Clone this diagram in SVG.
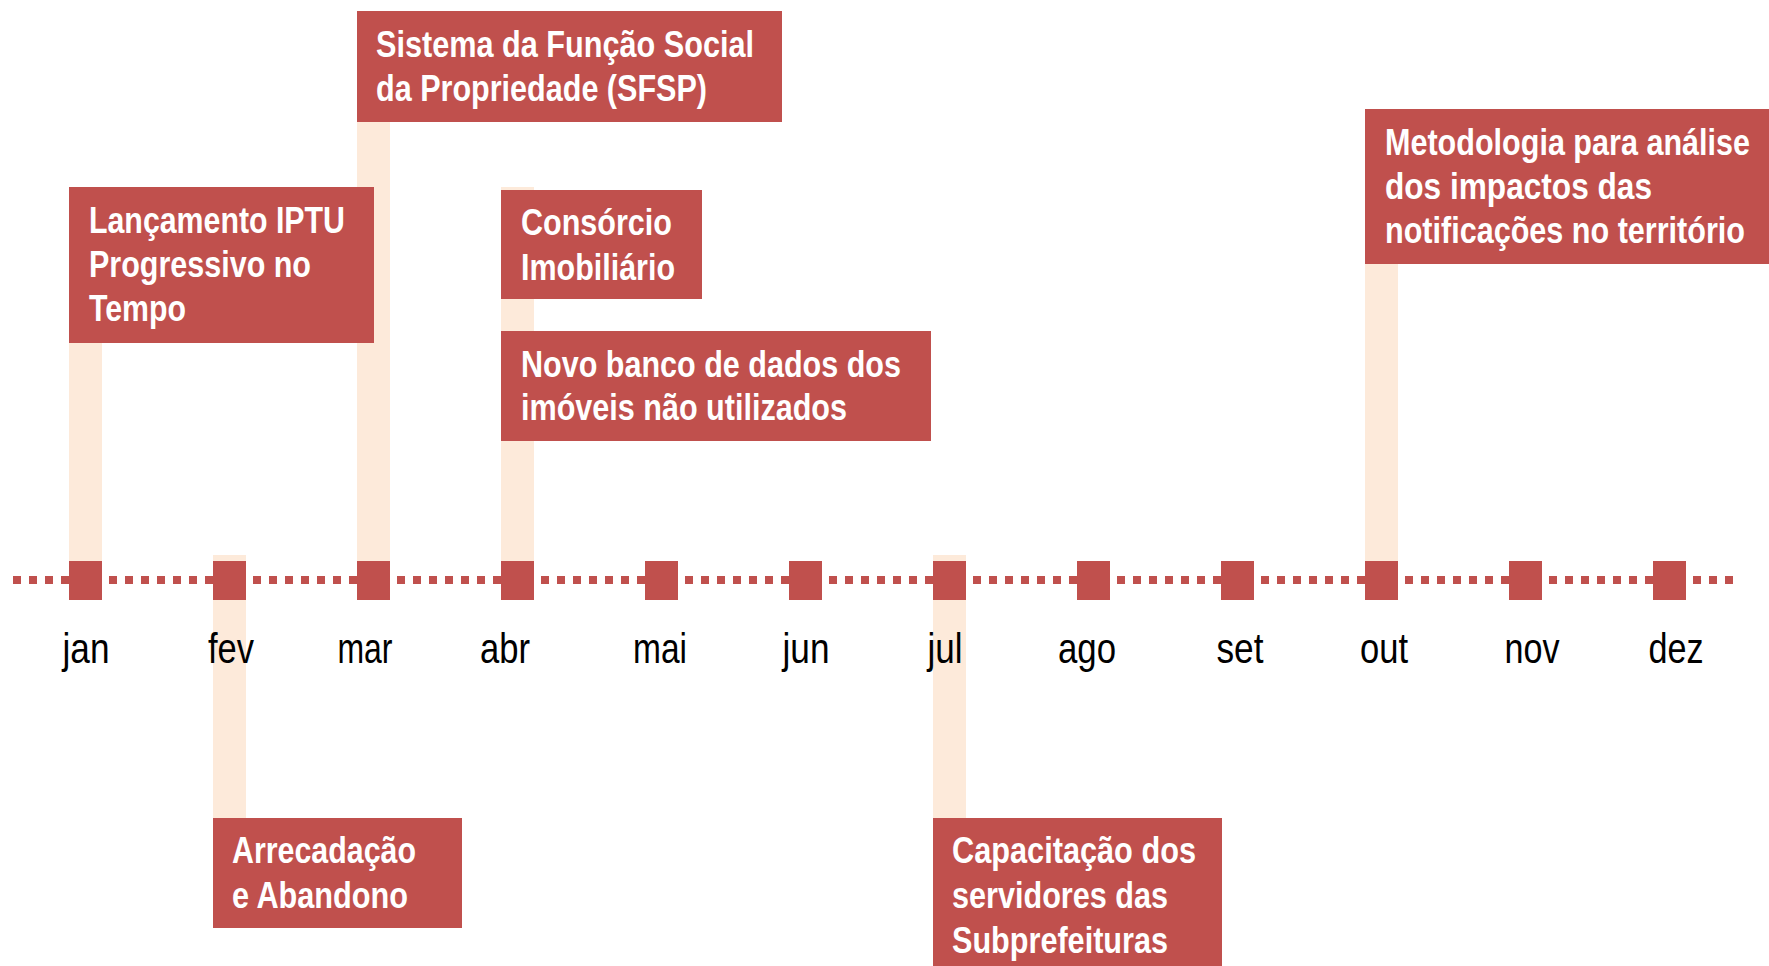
<svg xmlns="http://www.w3.org/2000/svg" width="1769" height="966" viewBox="0 0 1769 966">
<style>
.bg{fill:#FFFFFF}
.strip{fill:#FDEADA}
.box{fill:#C0504D}
.sq{fill:#C0504D}
.bt{font-family:"Liberation Sans","Arimo",Arial,sans-serif;font-weight:bold;font-size:37px;fill:#FFFFFF}
.mt{font-family:"Liberation Sans","Arimo",Arial,sans-serif;font-size:42px;fill:#000000;text-anchor:middle}
.axis{stroke:#C0504D;stroke-width:8;stroke-dasharray:8 8;fill:none}
</style>
<rect class="bg" x="0" y="0" width="1769" height="966"/>
<g id="connectors">
<rect class="strip" x="69" y="340" width="33" height="225"/>
<rect class="strip" x="213" y="555" width="33" height="265"/>
<rect class="strip" x="357" y="118" width="33" height="447"/>
<rect class="strip" x="501" y="187" width="33" height="378"/>
<rect class="strip" x="933" y="555" width="33" height="265"/>
<rect class="strip" x="1365" y="260" width="33" height="305"/>
<line class="axis" x1="13" y1="580" x2="1736" y2="580"/>
</g>
<g id="months">
<rect class="sq" x="69" y="561" width="33" height="39"/>
<rect class="sq" x="213" y="561" width="33" height="39"/>
<rect class="sq" x="357" y="561" width="33" height="39"/>
<rect class="sq" x="501" y="561" width="33" height="39"/>
<rect class="sq" x="645" y="561" width="33" height="39"/>
<rect class="sq" x="789" y="561" width="33" height="39"/>
<rect class="sq" x="933" y="561" width="33" height="39"/>
<rect class="sq" x="1077" y="561" width="33" height="39"/>
<rect class="sq" x="1221" y="561" width="33" height="39"/>
<rect class="sq" x="1365" y="561" width="33" height="39"/>
<rect class="sq" x="1509" y="561" width="33" height="39"/>
<rect class="sq" x="1653" y="561" width="33" height="39"/>
<text class="mt" x="86" y="663" textLength="47" lengthAdjust="spacingAndGlyphs">jan</text>
<text class="mt" x="231" y="663" textLength="46" lengthAdjust="spacingAndGlyphs">fev</text>
<text class="mt" x="365" y="663" textLength="55" lengthAdjust="spacingAndGlyphs">mar</text>
<text class="mt" x="505" y="663" textLength="50" lengthAdjust="spacingAndGlyphs">abr</text>
<text class="mt" x="660" y="663" textLength="54" lengthAdjust="spacingAndGlyphs">mai</text>
<text class="mt" x="806" y="663" textLength="47" lengthAdjust="spacingAndGlyphs">jun</text>
<text class="mt" x="945" y="663" textLength="35" lengthAdjust="spacingAndGlyphs">jul</text>
<text class="mt" x="1087" y="663" textLength="58" lengthAdjust="spacingAndGlyphs">ago</text>
<text class="mt" x="1240" y="663" textLength="47" lengthAdjust="spacingAndGlyphs">set</text>
<text class="mt" x="1384" y="663" textLength="48" lengthAdjust="spacingAndGlyphs">out</text>
<text class="mt" x="1532" y="663" textLength="55" lengthAdjust="spacingAndGlyphs">nov</text>
<text class="mt" x="1676" y="663" textLength="55" lengthAdjust="spacingAndGlyphs">dez</text>
</g>
<g id="node-sfsp">
<rect class="box" x="357" y="11" width="425" height="111"/>
<text class="bt" x="376" y="57" textLength="378" lengthAdjust="spacingAndGlyphs">Sistema da Função Social</text>
<text class="bt" x="376" y="101" textLength="331" lengthAdjust="spacingAndGlyphs">da Propriedade (SFSP)</text>
</g>
<g id="node-iptu">
<rect class="box" x="69" y="187" width="305" height="156"/>
<text class="bt" x="89" y="233" textLength="256" lengthAdjust="spacingAndGlyphs">Lançamento IPTU</text>
<text class="bt" x="89" y="277" textLength="222" lengthAdjust="spacingAndGlyphs">Progressivo no</text>
<text class="bt" x="89" y="321" textLength="97" lengthAdjust="spacingAndGlyphs">Tempo</text>
</g>
<g id="node-consorcio">
<rect class="box" x="501" y="190" width="201" height="109"/>
<text class="bt" x="521" y="235" textLength="151" lengthAdjust="spacingAndGlyphs">Consórcio</text>
<text class="bt" x="521" y="280" textLength="154" lengthAdjust="spacingAndGlyphs">Imobiliário</text>
</g>
<g id="node-banco">
<rect class="box" x="501" y="331" width="430" height="110"/>
<text class="bt" x="521" y="377" textLength="380" lengthAdjust="spacingAndGlyphs">Novo banco de dados dos</text>
<text class="bt" x="521" y="420" textLength="326" lengthAdjust="spacingAndGlyphs">imóveis não utilizados</text>
</g>
<g id="node-metodologia">
<rect class="box" x="1365" y="109" width="404" height="155"/>
<text class="bt" x="1385" y="155" textLength="365" lengthAdjust="spacingAndGlyphs">Metodologia para análise</text>
<text class="bt" x="1385" y="199" textLength="267" lengthAdjust="spacingAndGlyphs">dos impactos das</text>
<text class="bt" x="1385" y="243" textLength="360" lengthAdjust="spacingAndGlyphs">notificações no território</text>
</g>
<g id="node-arrecadacao">
<rect class="box" x="213" y="818" width="249" height="110"/>
<text class="bt" x="232" y="863" textLength="184" lengthAdjust="spacingAndGlyphs">Arrecadação</text>
<text class="bt" x="232" y="908" textLength="176" lengthAdjust="spacingAndGlyphs">e Abandono</text>
</g>
<g id="node-capacitacao">
<rect class="box" x="933" y="818" width="289" height="148"/>
<text class="bt" x="952" y="863" textLength="244" lengthAdjust="spacingAndGlyphs">Capacitação dos</text>
<text class="bt" x="952" y="908" textLength="216" lengthAdjust="spacingAndGlyphs">servidores das</text>
<text class="bt" x="952" y="953" textLength="216" lengthAdjust="spacingAndGlyphs">Subprefeituras</text>
</g>
</svg>
